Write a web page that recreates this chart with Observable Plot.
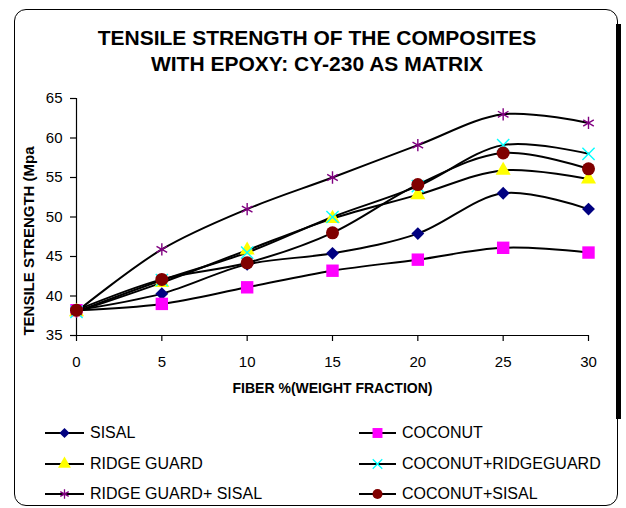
<!DOCTYPE html>
<html>
<head>
<meta charset="utf-8">
<script src="https://cdn.jsdelivr.net/npm/d3@7"></script>
<script src="https://cdn.jsdelivr.net/npm/@observablehq/plot@0.6"></script>
<style>
  html, body { margin: 0; padding: 0; background: #fff; }
  body { width: 626px; height: 508px; position: relative; overflow: hidden; font-family: "Liberation Sans", Arial, sans-serif; }
  #frame { position: absolute; left: 14px; top: 9px; width: 604px; height: 497px; border: 1.5px solid #000; border-radius: 12px; box-sizing: border-box; }
  #shade { position: absolute; left: 616px; top: 24px; width: 5px; height: 395px; background: #000; }
  #title { position: absolute; left: 14px; width: 606px; top: 25px; text-align: center; font-weight: bold; font-size: 21px; line-height: 26px; color: #000; }
  #chart { position: absolute; left: 0; top: 85px; }
  .leg { position: absolute; height: 20px; display: flex; align-items: center; font-size: 16px; color: #000; white-space: nowrap; }
  .leg svg { margin-right: 6px; }
</style>
</head>
<body>
<div id="frame"></div>
<div id="shade"></div>
<div id="title">TENSILE STRENGTH OF THE COMPOSITES<br>WITH EPOXY: CY-230 AS MATRIX</div>
<div id="chart"></div>
<div id="legend"></div>
<script>
// ---- data ----
const fiber = [0, 5, 10, 15, 20, 25, 30];
const seriesNames = ["SISAL", "COCONUT", "RIDGE GUARD", "COCONUT+RIDGEGUARD", "RIDGE GUARD+ SISAL", "COCONUT+SISAL"];
const sisal = [38.2, 40.3, 44.0, 45.4, 47.9, 53.0, 51.0];
const coconut = [38.2, 39.0, 41.1, 43.2, 44.6, 46.1, 45.5];
const ridgeGuard = [38.0, 41.7, 45.8, 49.8, 52.8, 55.9, 54.8];
const coconutRidgeguard = [38.0, 42.0, 45.5, 50.0, 53.9, 59.1, 58.0];
const ridgeGuardSisal = [38.0, 45.9, 51.0, 55.0, 59.1, 63.0, 61.9];
const coconutSisal = [38.2, 42.1, 44.2, 48.0, 54.1, 58.1, 56.1];
const yTicks = [35, 40, 45, 50, 55, 60, 65];
const xTicks = [0, 5, 10, 15, 20, 25, 30];
const xLabel = "FIBER %(WEIGHT FRACTION)";
const yLabel = "TENSILE STRENGTH (Mpa";

const seriesValues = [sisal, coconut, ridgeGuard, coconutRidgeguard, ridgeGuardSisal, coconutSisal];

// ---- styles ----
const styles = [
  {symbol: "diamond2", fill: "#000080", stroke: "none", r: 5.8, lr: 4.6},
  {symbol: "square", fill: "#ff00ff", stroke: "none", r: 7, lr: 5.6},
  {symbol: "triangle", fill: "#ffff00", stroke: "none", r: 5.6, lr: 4.8},
  {symbol: "times", fill: "none", stroke: "#00ffff", r: 5.6, lr: 4.4},
  {symbol: "asterisk", fill: "none", stroke: "#800080", r: 5.8, lr: 4.6},
  {symbol: "circle", fill: "#800000", stroke: "none", r: 6.5, lr: 5}
];

const rows = seriesNames.flatMap((name, s) =>
  fiber.map((f, i) => ({fiber: f, strength: seriesValues[s][i], series: name})));

const font = "'Liberation Sans', Arial, sans-serif";

const marks = [
  Plot.ruleX([0], {stroke: "#000", strokeWidth: 1.2}),
  Plot.ruleY([35], {stroke: "#000", strokeWidth: 1.2}),
  Plot.axisY({ticks: yTicks, tickSize: 6, tickPadding: 8, fontSize: 15, stroke: "#000", strokeWidth: 1.2, label: null}),
  Plot.axisX({ticks: xTicks, tickSize: 6, tickPadding: 15, fontSize: 15, stroke: "#000", strokeWidth: 1.2, label: null}),
  Plot.line(rows, {x: "fiber", y: "strength", z: "series", curve: "catmull-rom", stroke: "#000", strokeWidth: 2})
];
seriesNames.forEach((name, s) => {
  const st = styles[s];
  marks.push(Plot.dot(rows.filter(d => d.series === name), {
    x: "fiber", y: "strength", symbol: st.symbol, r: st.r,
    fill: st.fill, stroke: st.stroke, strokeWidth: st.stroke === "none" ? 0 : 1.4
  }));
});
marks.push(Plot.text([xLabel], {frameAnchor: "bottom", textAnchor: "middle", dy: 57, fontSize: 14, fontWeight: "bold", letterSpacing: "-0.4px"}));
marks.push(Plot.text([yLabel], {frameAnchor: "left", textAnchor: "middle", dx: -47, dy: 24, rotate: -90, fontSize: 15, fontWeight: "bold"}));

const chart = Plot.plot({
  width: 626,
  height: 325,
  marginLeft: 76,
  marginRight: 38,
  marginTop: 13,
  marginBottom: 75,
  x: {domain: [0, 30]},
  y: {domain: [35, 65]},
  style: {fontFamily: font, fontSize: "15px", color: "#000", background: "transparent", overflow: "visible"},
  marks
});
document.getElementById("chart").appendChild(chart);

// ---- legend ----
const legend = document.getElementById("legend");
const colX = [45, 359];
const rowY = [432.5, 463.5, 494];
seriesNames.forEach((name, s) => {
  const st = styles[s];
  const div = document.createElement("div");
  div.className = "leg";
  div.style.left = colX[s % 2] + "px";
  div.style.top = (rowY[Math.floor(s / 2)] - 10) + "px";
  const w = s % 2 === 0 ? 39 : 37;
  const svg = d3.create("svg").attr("width", w).attr("height", 20);
  svg.append("line").attr("x1", 0).attr("x2", w).attr("y1", 10).attr("y2", 10).attr("stroke", "#000").attr("stroke-width", 2.2);
  const symMap = {diamond2: d3.symbolDiamond2, square: d3.symbolSquare, triangle: d3.symbolTriangle, times: d3.symbolTimes, asterisk: d3.symbolAsterisk, circle: d3.symbolCircle};
  svg.append("path")
    .attr("transform", `translate(${w / 2},10)`)
    .attr("d", d3.symbol(symMap[st.symbol], Math.PI * st.lr * st.lr)())
    .attr("fill", st.fill).attr("stroke", st.stroke).attr("stroke-width", st.stroke === "none" ? 0 : 1.3);
  div.appendChild(svg.node());
  const span = document.createElement("span");
  span.textContent = name;
  div.appendChild(span);
  legend.appendChild(div);
});
</script>
</body>
</html>
